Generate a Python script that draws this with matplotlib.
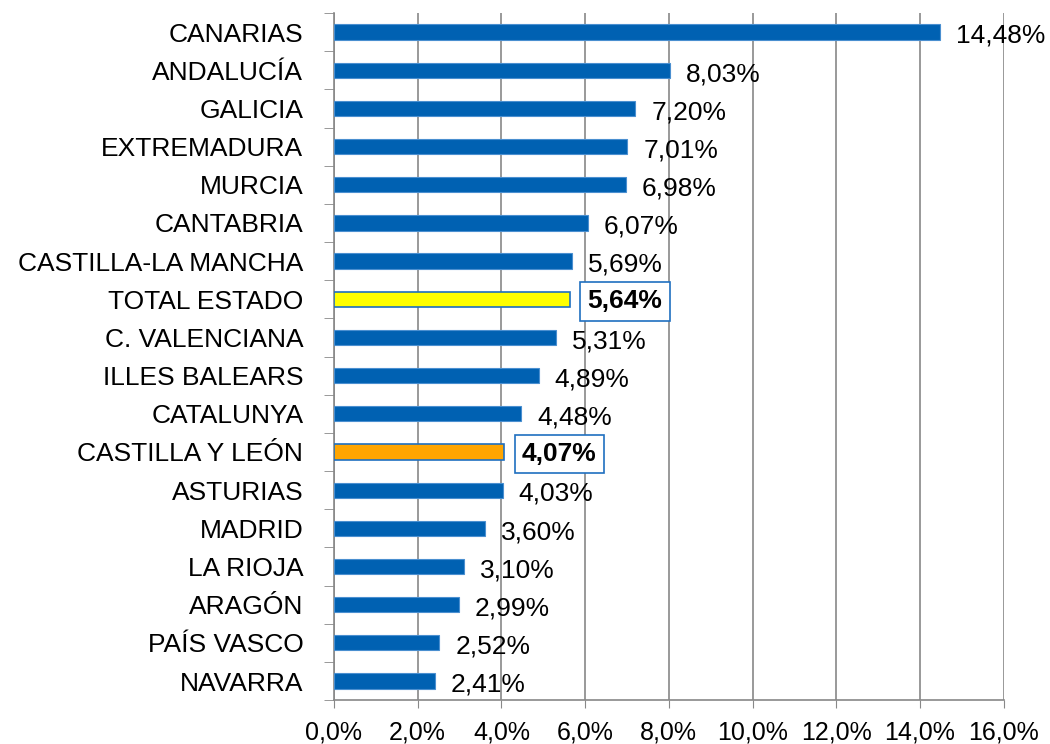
import matplotlib.pyplot as plt
import numpy as np

plt.rcParams['font.family'] = ['Liberation Sans', 'DejaVu Sans']

regiones = ['CANARIAS', 'ANDALUCÍA', 'GALICIA', 'EXTREMADURA', 'MURCIA',
            'CANTABRIA', 'CASTILLA-LA MANCHA', 'TOTAL ESTADO', 'C. VALENCIANA',
            'ILLES BALEARS', 'CATALUNYA', 'CASTILLA Y LEÓN', 'ASTURIAS',
            'MADRID', 'LA RIOJA', 'ARAGÓN', 'PAÍS VASCO', 'NAVARRA']
valores = [14.48, 8.03, 7.20, 7.01, 6.98, 6.07, 5.69, 5.64, 5.31,
           4.89, 4.48, 4.07, 4.03, 3.60, 3.10, 2.99, 2.52, 2.41]
ticks_x = [0, 2, 4, 6, 8, 10, 12, 14, 16]

colores = {'TOTAL ESTADO': '#FFFF00', 'CASTILLA Y LEÓN': '#FFA500'}
azul = '#0061B2'

fig = plt.figure(figsize=(10.5, 7.44), dpi=100)
ax = fig.add_axes([0.318, 0.059, 0.638, 0.9235])

y = np.arange(len(regiones))
for i, (reg, val) in enumerate(zip(regiones, valores)):
    if reg in colores:
        ax.barh(i, val, height=0.4, color=colores[reg], edgecolor='#1F6FC0',
                linewidth=1.2, zorder=3)
        ax.text(val + 0.42, i + 0.05, f'{val:.2f}%'.replace('.', ','),
                fontsize=19, fontweight='bold', va='center', ha='left', zorder=4,
                bbox=dict(boxstyle='square,pad=0.28', facecolor='white',
                          edgecolor='#1F6FC0', linewidth=1.2))
    else:
        ax.barh(i, val, height=0.4, color=azul, edgecolor='#4A8FD0',
                linewidth=0.8, zorder=3)
        ax.text(val + 0.38, i + 0.1, f'{val:.2f}%'.replace('.', ','),
                fontsize=19, va='center', ha='left', zorder=4)

ax.set_ylim(len(regiones) - 0.5, -0.5)
ax.set_xlim(0, 16)
ax.set_yticks(y)
ax.set_yticklabels(regiones, fontsize=19)
ax.set_yticks(np.arange(-0.5, len(regiones), 1), minor=True)
ax.tick_params(axis='y', which='major', length=0, pad=22)
ax.tick_params(axis='y', which='minor', length=7, color='#888888')

ax.set_xticks(ticks_x)
ax.set_xticklabels([f'{t:.1f}%'.replace('.', ',') for t in ticks_x], fontsize=18)
ax.tick_params(axis='x', length=6, color='#888888', pad=9)

ax.grid(axis='x', color='#888888', linewidth=1.2, zorder=0)
for s in ['top', 'right']:
    ax.spines[s].set_visible(False)
for s in ['left', 'bottom']:
    ax.spines[s].set_color('#888888')
    ax.spines[s].set_linewidth(1.2)

fig.savefig('out.png', dpi=100)
